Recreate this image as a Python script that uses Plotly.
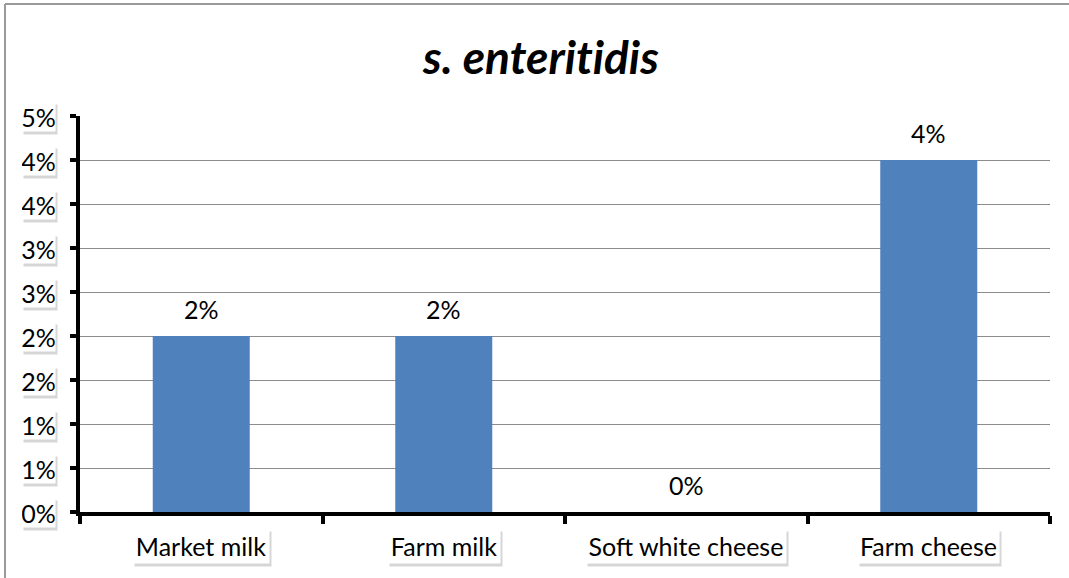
import plotly.graph_objects as go

categories = ["Market milk", "Farm milk", "Soft white cheese", "Farm cheese"]
values = [2.0, 2.0, 0.0, 4.0]
y_tickvals = [0, 0.5, 1, 1.5, 2, 2.5, 3, 3.5, 4, 4.5]
y_ticktext = ["0%", "1%", "1%", "2%", "2%", "3%", "3%", "4%", "4%", "5%"]
title_text = "<b><i>s. enterit\u200cidis</i></b>"

FONT = "Lato, Carlito, Calibri, sans-serif"
W, H = 1069, 578
ML, MR, MT, MB = 80, 19, 116, 66
PW, PH = W - ML - MR, H - MT - MB

# label box widths (px), styling only
x_box_w = [136, 112, 200, 141]
y_box_w = 33

fig = go.Figure()
fig.add_trace(go.Bar(x=categories, y=values, marker_color="#4f81bd",
                     marker_line_width=0, width=0.4, hoverinfo="skip"))

ann = []
shadow_bg = "rgba(0,0,0,0.16)"
LF = dict(family=FONT, size=25, color="black")
# y tick labels in boxes
for v, t in zip(y_tickvals, y_ticktext):
    ann.append(dict(xref="paper", yref="y", x=0, y=v, text=" ", showarrow=False,
                    xanchor="right", yanchor="middle", xshift=-22, yshift=-3,
                    width=y_box_w, height=29, bgcolor=shadow_bg, borderpad=0))
    ann.append(dict(xref="paper", yref="y", x=0, y=v, text=t, showarrow=False,
                    xanchor="right", yanchor="middle", xshift=-24,
                    width=y_box_w, height=29, bgcolor="white", borderpad=0, font=LF))
# x tick labels in boxes
for c, bw in zip(categories, x_box_w):
    ann.append(dict(xref="x", yref="paper", x=c, y=0, text=" ", showarrow=False,
                    xanchor="center", yanchor="top", xshift=2, yshift=-19,
                    width=bw, height=34, bgcolor=shadow_bg, borderpad=0))
    ann.append(dict(xref="x", yref="paper", x=c, y=0, text=c, showarrow=False,
                    xanchor="center", yanchor="top", yshift=-16,
                    width=bw, height=34, bgcolor="white", borderpad=0, font=LF))
# data labels
for c, v in zip(categories, values):
    ann.append(dict(xref="x", yref="y", x=c, y=v, text=f"{v:.0f}%", showarrow=False,
                    xanchor="center", yanchor="bottom", yshift=10, font=LF))

px2x = lambda px: (px - ML) / PW
px2y = lambda py: (H - MB - py) / PH
shapes = [
    dict(type="line", xref="paper", yref="paper", x0=px2x(5), x1=px2x(5),
         y0=px2y(H + 5), y1=px2y(4), line=dict(color="#9a9a9a", width=2)),
    dict(type="line", xref="paper", yref="paper", x0=px2x(5), x1=px2x(W + 5),
         y0=px2y(4), y1=px2y(4), line=dict(color="#9a9a9a", width=2)),
]

fig.update_layout(
    width=W, height=H,
    margin=dict(l=ML, r=MR, t=MT, b=MB, pad=0),
    paper_bgcolor="white", plot_bgcolor="white",
    showlegend=False,
    title=dict(text=title_text, x=0.506, xref="container", y=1 - 58 / H, yref="container",
               xanchor="center", yanchor="middle",
               font=dict(family=FONT, size=46, color="black")),
    xaxis=dict(type="category", range=[-0.5, 3.5], showticklabels=False,
               showline=True, linecolor="black", linewidth=4,
               ticks="outside", tickson="boundaries", ticklen=8, tickwidth=4,
               tickcolor="black", showgrid=False, zeroline=False, fixedrange=True),
    yaxis=dict(range=[0, 4.5], tickvals=y_tickvals, showticklabels=False,
               showline=True, linecolor="black", linewidth=4,
               ticks="outside", ticklen=6, tickwidth=4, tickcolor="black",
               showgrid=True, gridcolor="#8c8c8c", gridwidth=1,
               zeroline=False, fixedrange=True),
    annotations=ann,
    shapes=shapes,
)

fig.write_html("out.html", config={"displayModeBar": False})
